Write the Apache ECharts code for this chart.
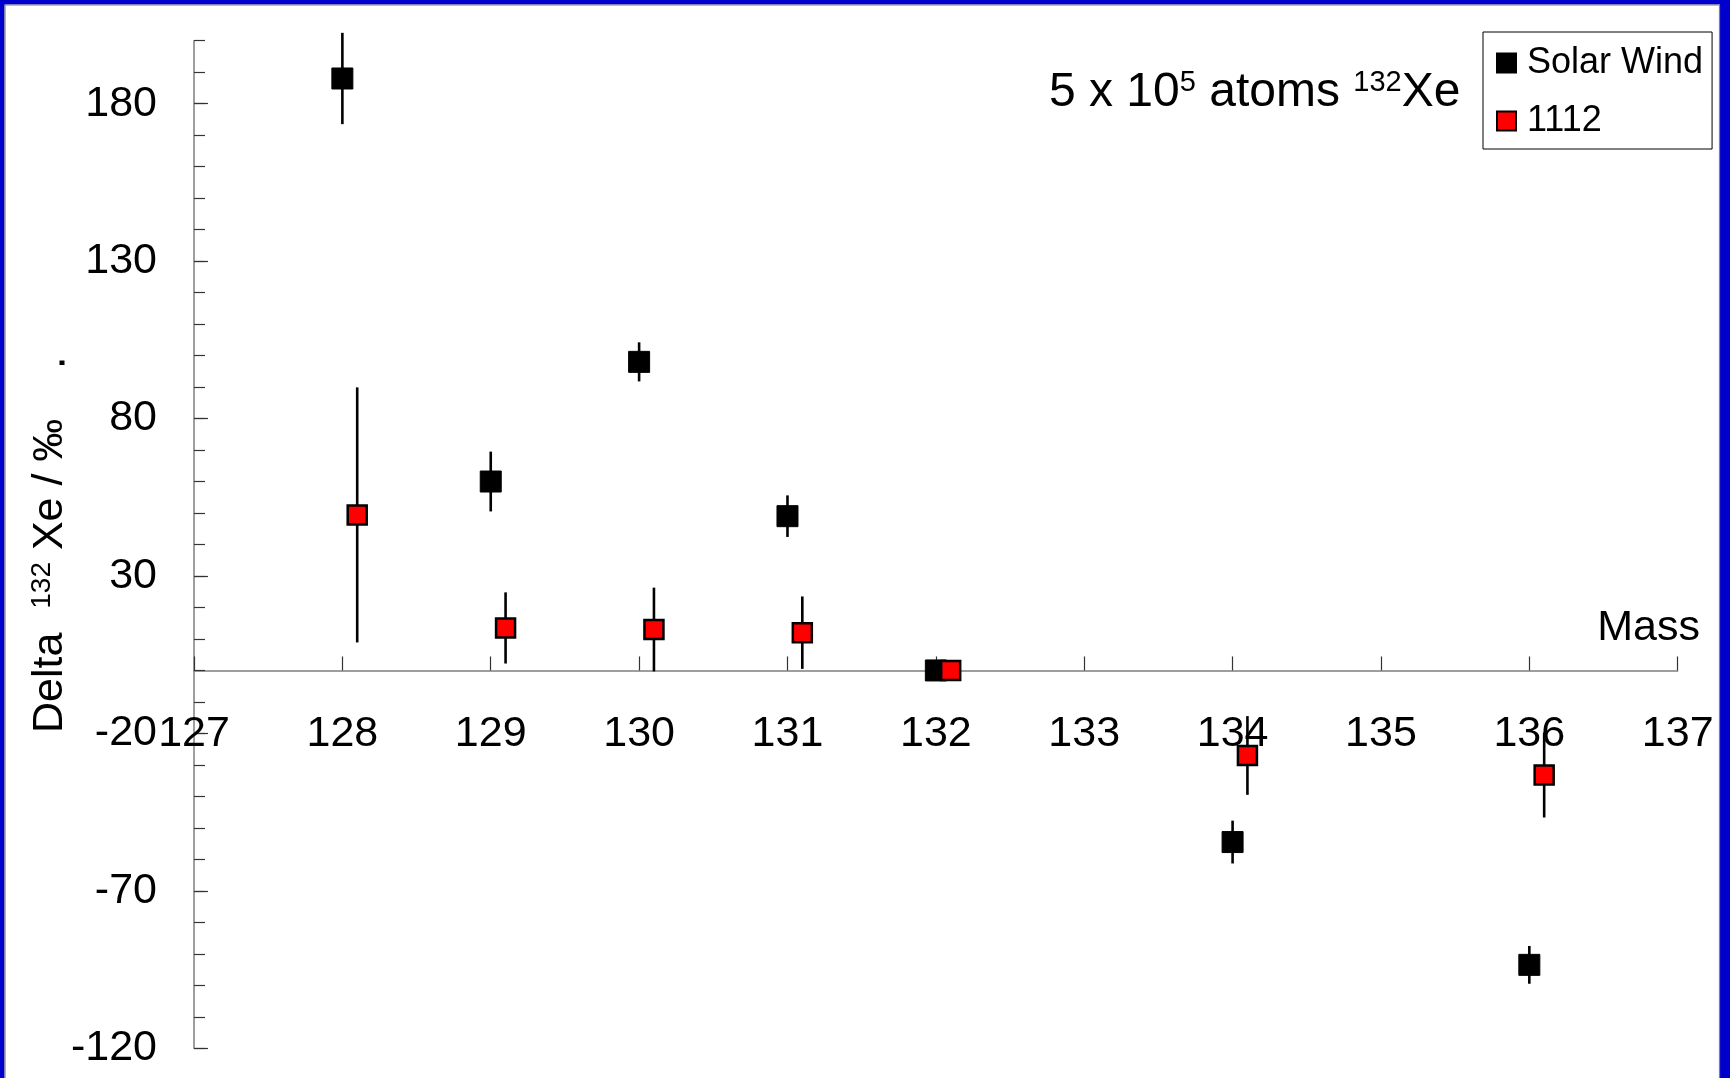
<!DOCTYPE html>
<html>
<head>
<meta charset="utf-8">
<script src="https://cdn.jsdelivr.net/npm/echarts@6/dist/echarts.min.js"></script>
<style>
html,body{margin:0;padding:0;background:#fff;}
#c{width:1730px;height:1078px;}
</style>
</head>
<body>
<div id="c"></div>
<script>
// ---- data ----
const yLabelValues = [-120, -70, -20, 30, 80, 130, 180];
const yMin = -120, yMax = 200;
const xMin = 127, xMax = 137;
const swMass  = [128, 129, 130, 131, 132, 134, 136];
const swDelta = [188, 60, 98, 49, 0, -54.5, -93.5];
const swErr   = [14.5, 9.5, 6.2, 6.6, 0, 6.8, 6];
const m1112Mass  = [128.1, 129.1, 130.1, 131.1, 132.1, 134.1, 136.1];
const m1112Delta = [49.4, 13.5, 13, 12, 0, -27, -33.2];
const m1112Err   = [40.5, 11.3, 13.3, 11.5, 0, 12.5, 13.5];

const FONT = "'Liberation Sans', Arial, sans-serif";
const GRID = { left: 194, top: 40.7, right: 52.3, bottom: 29.7 };
const gridH = 1078 - GRID.top - GRID.bottom;
// x axis sits at y = 0: distance from the grid bottom
const xAxisOffset = -((0 - yMin) / (yMax - yMin)) * gridH;

function pts(xs, ys) { return xs.map((x, i) => [x, ys[i]]); }
function bars(xs, ys, es) { return xs.map((x, i) => [x, ys[i] - es[i], ys[i] + es[i]]); }

function errRender(params, api) {
  const x = api.value(0), lo = api.value(1), hi = api.value(2);
  if (hi === lo) return null;
  const p1 = api.coord([x, hi]), p2 = api.coord([x, lo]);
  return { type: 'line', shape: { x1: p1[0], y1: p1[1], x2: p2[0], y2: p2[1] },
           style: { stroke: '#000', lineWidth: 2.6 } };
}

const chart = echarts.init(document.getElementById('c'), null, { renderer: 'canvas' });
chart.setOption({
  backgroundColor: '#fff',
  animation: false,
  textStyle: { fontFamily: FONT, color: '#000' },
  grid: { left: GRID.left, top: GRID.top, right: GRID.right, bottom: GRID.bottom,
          containLabel: false, outerBoundsMode: 'none' },
  legend: {
    orient: 'vertical', left: 1483, top: 32,
    data: ['Solar Wind', '1112'],
    itemWidth: 19, itemHeight: 19, itemGap: 22,
    padding: [13, 9, 10, 13],
    borderColor: '#000', borderWidth: 1, backgroundColor: '#fff',
    textStyle: { fontSize: 36, fontFamily: FONT, color: '#000', padding: [0, 0, 0, 6] }
  },
  xAxis: {
    type: 'value', min: xMin, max: xMax, interval: 1,
    position: 'bottom', offset: xAxisOffset,
    axisLine: { onZero: false, lineStyle: { color: '#7f7f7f', width: 1.5 } },
    axisTick: { inside: true, length: 14, lineStyle: { color: '#333', width: 1.2 } },
    axisLabel: { fontSize: 43, color: '#000', margin: 64, verticalAlign: 'middle', fontFamily: FONT,
                 showMinLabel: true, showMaxLabel: true },
    splitLine: { show: false }
  },
  yAxis: [
    {
      type: 'value', min: yMin, max: yMax, interval: 10, position: 'left', offset: 0,
      axisLine: { show: true, onZero: false, lineStyle: { color: '#7f7f7f', width: 1.5 } },
      axisTick: { inside: true, length: 11, lineStyle: { color: '#333', width: 1.2 } },
      axisLabel: { show: false },
      splitLine: { show: false }
    },
    {
      type: 'value', min: yMin, max: yMax, position: 'left', offset: 0,
      axisLine: { show: false, onZero: false },
      axisTick: { inside: true, length: 14, customValues: yLabelValues, lineStyle: { color: '#333', width: 1.2 } },
      axisLabel: { fontSize: 43, color: '#000', margin: 37, customValues: yLabelValues, fontFamily: FONT },
      splitLine: { show: false }
    }
  ],
  graphic: [
    { type: 'rect', shape: { x: 0, y: 0, width: 1730, height: 4.5 }, style: { fill: '#0000cc' }, z: 100 },
    { type: 'rect', shape: { x: 0, y: 0, width: 4.5, height: 1078 }, style: { fill: '#0000cc' }, z: 100 },
    { type: 'rect', shape: { x: 1720, y: 0, width: 10, height: 1078 }, style: { fill: '#0000cc' }, z: 100 },
    { type: 'line', shape: { x1: 5, y1: 5, x2: 1719.5, y2: 5 }, style: { stroke: '#808080', lineWidth: 1.2 }, z: 100 },
    { type: 'line', shape: { x1: 5, y1: 5, x2: 5, y2: 1078 }, style: { stroke: '#808080', lineWidth: 1.2 }, z: 100 },
    { type: 'line', shape: { x1: 1719.5, y1: 5, x2: 1719.5, y2: 1078 }, style: { stroke: '#808080', lineWidth: 1.2 }, z: 100 },
    {
      type: 'text', x: 1049, y: 92.5, z: 50,
      style: {
        text: '{n|5 x 10}{s|5}{n| atoms }{s|132}{n|Xe}',
        verticalAlign: 'middle', align: 'left',
        rich: {
          n: { fontSize: 48, fontFamily: FONT, fill: '#000', color: '#000' },
          s: { fontSize: 29, fontFamily: FONT, fill: '#000', color: '#000', verticalAlign: 'top' }
        }
      }
    },
    {
      type: 'text', x: 1700, y: 628, z: 50,
      style: { text: 'Mass', fontSize: 43, fontFamily: FONT, fill: '#000', align: 'right', verticalAlign: 'middle' }
    },
    {
      type: 'text', x: 50, y: 733, rotation: Math.PI / 2, z: 50,
      style: {
        text: '{n|Delta  }{s|132}{n| Xe / \u2030}',
        align: 'left', verticalAlign: 'middle',
        rich: {
          n: { fontSize: 43, fontFamily: FONT, fill: '#000', color: '#000' },
          s: { fontSize: 28, fontFamily: FONT, fill: '#000', color: '#000', verticalAlign: 'top' }
        }
      }
    },
    { type: 'rect', shape: { x: 59.5, y: 360.5, width: 5, height: 4.5 }, style: { fill: '#000' }, z: 50 }
  ],
  series: [
    {
      type: 'custom', name: 'swErr', xAxisIndex: 0, yAxisIndex: 0,
      renderItem: errRender, data: bars(swMass, swDelta, swErr),
      encode: { x: 0, y: [1, 2] }, clip: false, silent: true, z: 1
    },
    {
      type: 'custom', name: 'm1112Err', xAxisIndex: 0, yAxisIndex: 0,
      renderItem: errRender, data: bars(m1112Mass, m1112Delta, m1112Err),
      encode: { x: 0, y: [1, 2] }, clip: false, silent: true, z: 1
    },
    {
      type: 'scatter', name: 'Solar Wind', xAxisIndex: 0, yAxisIndex: 0,
      data: pts(swMass, swDelta), symbol: 'rect', symbolSize: 21,
      itemStyle: { color: '#000', borderColor: '#000', borderWidth: 1, opacity: 1 }, z: 3
    },
    {
      type: 'scatter', name: '1112', xAxisIndex: 0, yAxisIndex: 0,
      data: pts(m1112Mass, m1112Delta), symbol: 'rect', symbolSize: 19,
      itemStyle: { color: '#ff0000', borderColor: '#000', borderWidth: 2.5, opacity: 1 }, z: 4
    }
  ]
});
</script>
</body>
</html>
